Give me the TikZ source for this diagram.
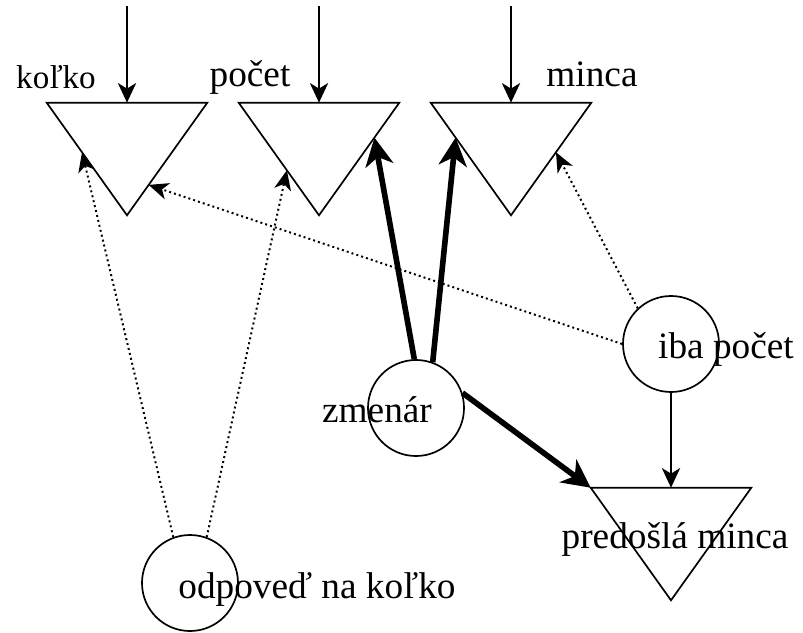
\documentclass[tikz,border=0pt]{standalone}
\usepackage{fontspec}
\setmainfont{Liberation Serif}
\usetikzlibrary{arrows.meta,calc}

\begin{document}
\begin{tikzpicture}[
  x=0.025cm, y=-0.025cm,
  tri/.style={minimum width=4cm, minimum height=2.8cm, inner sep=0pt},
  circ/.style={draw, circle, minimum size=2.4cm, inner sep=0pt, line width=1.2pt},
  lbl/.style={anchor=base, inner sep=0pt, font=\fontsize{26.5}{30}\selectfont},
  flow/.style={line width=1.3pt, -{Stealth[length=14pt, width=13pt, inset=4pt]}},
  hint/.style={line width=1.4pt, dash pattern=on 1.4pt off 2.2pt, -{Stealth[length=14pt, width=12pt, inset=4pt]}},
  strong/.style={line width=4pt, -{Stealth[length=20pt, width=20pt, inset=6pt]}}
]
  \useasboundingbox (0,0) rectangle (803,632);

  % triangles
  \node[tri] (t1) at (127,159) {};
  \node[tri] (t2) at (319,159) {};
  \node[tri] (t3) at (511,159) {};
  \node[tri] (t4) at (671,544) {};
  \foreach \t in {t1,t2,t3,t4}
    \draw[line width=1.2pt] (\t.north west) -- (\t.north east) -- (\t.south) -- cycle;

  % circles
  \node[circ] (zmenar) at (416,408) {};
  \node[circ] (iba)    at (671,344) {};
  \node[circ] (odp)    at (190,583) {};

  % labels
  \node[lbl, font=\fontsize{23.5}{26}\selectfont] (lkolko) at (56,88) {koľko};
  \node[lbl] (lpocet)  at (250,86)  {počet};
  \node[lbl] (lminca)  at (592,86)  {minca};
  \node[lbl] (lzmenar) at (377,422) {zmenár};
  \node[lbl] (liba)    at (726,358) {iba počet};
  \node[lbl] (lpred)   at (675,548) {predošlá minca};
  \node[lbl] (lodp)    at (317,598) {odpoveď na koľko};

  % inputs from above
  \coordinate (in1) at (127,6);
  \coordinate (in2) at (319,6);
  \coordinate (in3) at (511,6);
  \draw[flow] (in1) -- (t1.north);
  \draw[flow] (in2) -- (t2.north);
  \draw[flow] (in3) -- (t3.north);

  % dotted links
  \draw[hint] (odp.110) -- ($(t1.north west)!0.44!(t1.south)$);
  \draw[hint] (odp.70)  -- ($(t2.north west)!0.6!(t2.south)$);
  \draw[hint] (iba.180) -- ($(t1.north east)!0.73!(t1.south)$);
  \draw[hint] (iba.133) -- ($(t3.north east)!0.44!(t3.south)$);

  % heavy links
  \draw[strong] (zmenar.92) -- ($(t2.north east)!0.31!(t2.south)$);
  \draw[strong] (zmenar.70) -- ($(t3.north west)!0.31!(t3.south)$);
  \draw[strong] (zmenar.18) -- (t4.north west);

  \draw[flow] (iba.south) -- (t4.north);
\end{tikzpicture}
\end{document}
